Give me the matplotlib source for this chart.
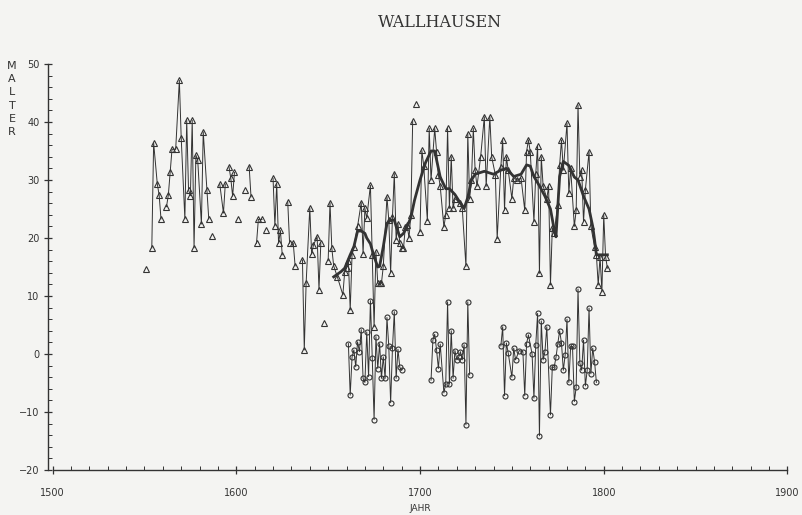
import numpy as np
import matplotlib.pyplot as plt
from matplotlib.ticker import MultipleLocator

nan = np.nan

# yearly values (triangles), nan = gap in the line
tri_years = [1551, 1552, 1554, 1555, 1557, 1558, 1559, 1560,
             1562, 1563, 1564, 1565, 1567, 1569, 1570, 1572, 1573, 1574, 1575, 1576,
             1577, 1578, 1579, 1581, 1582, 1584, 1585, 1586, 1587, 1588,
             1591, 1593, 1594, 1595, 1596, 1597, 1598, 1599, 1600, 1601, 1602,
             1605, 1606, 1607, 1608, 1609, 1611, 1612, 1614, 1615, 1616, 1617,
             1620, 1621, 1622, 1623, 1624, 1625, 1626, 1628, 1629, 1630, 1631, 1632, 1633,
             1636, 1637, 1638, 1640, 1641, 1642, 1644, 1645, 1646, 1647, 1648, 1649,
             1650, 1651, 1652, 1653, 1655, 1658, 1659, 1660, 1661, 1662, 1663, 1664,
             1666, 1668, 1669, 1670, 1671, 1673, 1674, 1675, 1676, 1677, 1678, 1679,
             1680, 1682, 1683, 1684, 1685, 1686, 1687, 1688, 1689, 1690, 1691, 1692,
             1693, 1694, 1695, 1696, 1697, 1698, 1699,
             1700, 1701, 1702, 1704, 1705, 1706, 1708, 1709, 1710, 1711, 1713, 1714,
             1715, 1716, 1717, 1718, 1719, 1722, 1723, 1725, 1726, 1727, 1728, 1729,
             1730, 1731, 1733, 1735, 1736, 1738, 1739, 1741, 1742, 1744, 1745, 1746,
             1747, 1748, 1750, 1751, 1753, 1755, 1757, 1758, 1759, 1760, 1762, 1763,
             1764, 1765, 1766, 1767, 1769, 1770, 1771, 1772, 1773, 1775, 1776, 1777,
             1778, 1780, 1781, 1782, 1784, 1785, 1786, 1787, 1788, 1789, 1790, 1792,
             1793, 1795, 1796, 1797, 1798, 1799, 1800, 1801, 1802]
tri_vals = [14.7, nan, 18.3, 36.4, 29.3, 27.4, 23.3, nan,
            25.4, 27.4, 31.3, 35.3, 35.3, 47.2, 37.3, 23.3, 40.3, 28.3, 27.3, 40.3,
            18.3, 34.3, 33.4, 22.4, 38.3, 28.3, 23.3, nan, 20.3, nan,
            29.3, 24.3, 29.3, nan, 32.3, 30.3, 27.2, 31.3, nan, 23.3, nan,
            28.3, nan, 32.3, 27.1, nan, 19.1, 23.2, 23.2, nan, 21.3, nan,
            30.3, 22.1, 29.3, 19.1, 21.3, 17.1, nan, 26.2, 19.1, nan, 19.1, 15.2, nan,
            16.2, 0.7, 12.2, 25.2, 17.2, 18.8, 20.2, 11.1, 19.1, nan, 5.3, nan,
            16.1, 26.1, 18.2, 15.2, 13.3, 10.2, 14.2, 14.8, 16.1, 7.6, 17.1, 18.5,
            22.0, 26.1, 17.3, 25.1, 23.4, 29.1, 17.1, 4.7, 17.6, 12.2, 12.2, 12.2,
            15.1, 27.1, 23.1, 14.0, 23.7, 31.1, 19.7, 22.5, 19.1, 18.2, 18.2, 21.9,
            22.2, 20.0, 24.0, 40.1, nan, 43.1, nan,
            21.1, 35.1, 32.5, 23.0, 38.9, 30.0, 38.9, 34.9, 30.9, 28.9, 21.9, 24.0,
            38.9, 25.1, 34.0, 25.1, 26.8, 26.0, 25.1, 15.1, 38.0, 26.8, 30.0, 38.9,
            31.7, 28.9, 34.0, 40.9, 28.9, 40.9, 34.0, 30.9, 19.9, 32.3, 36.9, 24.8,
            34.0, 31.7, 26.8, 30.3, 30.0, 30.3, 24.8, 34.9, 36.9, 34.9, 22.8, 31.1,
            35.9, 13.9, 34.0, 29.0, 26.8, 28.9, 11.9, 21.7, 20.8, 25.7, 32.6, 36.9,
            31.7, 39.8, 27.7, 32.0, 22.0, 24.8, 42.9, 30.6, 31.7, 22.8, 28.3, 34.9,
            22.0, 18.5, 17.1, 11.9, 16.8, 10.7, 24.0, 16.8, 14.8]

# smoothed curve (thick line)
smooth_years = [1653, 1657, 1659, 1662, 1664, 1666, 1668, 1670, 1671, 1673, 1675, 1677,
                1678, 1680, 1682, 1684, 1686, 1687, 1689, 1691, 1693, 1695, 1697, 1700,
                1703, 1706, 1708, 1711, 1714, 1716, 1719, 1722, 1724, 1726, 1728, 1730,
                1735, 1740, 1744, 1747, 1751, 1755, 1758, 1760, 1762, 1765, 1768, 1771,
                1773, 1774, 1775, 1776, 1778, 1781, 1784, 1786, 1789, 1792, 1794, 1795,
                1796, 1799, 1802]
smooth_vals = [13.3, 14.2, 14.8, 17.1, 18.5, 21.2, 21.2, 20.8, 20.0, 19.0, 16.8, 15.0,
               15.1, 18.5, 22.5, 23.1, 23.1, 22.0, 20.2, 20.8, 22.0, 23.5, 26.5, 30.0,
               33.0, 35.0, 35.0, 30.5, 28.5, 28.5, 27.5, 26.0, 25.1, 27.0, 30.0, 31.0,
               31.5, 31.0, 31.7, 32.0, 30.6, 31.0, 32.6, 32.4, 30.6, 29.0, 27.2, 25.0,
               21.5, 20.2, 25.4, 30.6, 33.2, 32.5, 30.5, 30.0, 27.2, 25.0, 22.0, 19.7,
               17.1, 17.1, 17.1]

# deviations from the smoothed curve (circles)
dev_years = [1661, 1662, 1663, 1664, 1665, 1666, 1667, 1668, 1669, 1670, 1671, 1672,
             1673, 1674, 1675, 1676, 1677, 1678, 1679, 1680, 1681, 1682, 1683, 1684,
             1685, 1686, 1687, 1688, 1689, 1690, 1691,
             1706, 1707, 1708, 1709, 1710, 1711, 1713, 1714, 1715, 1716, 1717, 1718,
             1719, 1720, 1721, 1722, 1723, 1724, 1725, 1726, 1727, 1728,
             1744, 1745, 1746, 1747, 1748, 1750, 1751, 1752, 1754, 1756, 1757, 1758,
             1759, 1761, 1762, 1763, 1764, 1765, 1766, 1767, 1768, 1769, 1771, 1772,
             1773, 1774, 1775, 1776, 1777, 1778, 1779, 1780, 1781, 1782, 1783, 1784,
             1785, 1786, 1787, 1788, 1789, 1790, 1791, 1792, 1793, 1794, 1795, 1796]
dev_vals = [1.8, -7.1, -0.5, 0.7, -2.2, 2.1, 0.4, 4.2, -4.2, -4.9, 3.8, -3.9,
            9.2, -0.7, -11.3, 3.0, -2.5, 1.8, -4.2, -0.5, -4.2, 6.3, 1.3, -8.4,
            1.0, 7.3, -4.2, 0.8, -2.3, -2.8, nan,
            -4.5, 2.4, 3.4, 0.7, -2.5, 1.7, -6.7, -5.1, 9.0, -5.1, 4.0, -4.2,
            0.6, -1.0, -0.6, 0.4, -1.0, 1.6, -12.2, 9.0, -3.6, nan,
            1.4, 4.7, -7.2, 1.9, 0.2, -4.0, 1.0, -1.0, 0.6, 0.4, -7.2, 1.8,
            3.3, 0.0, -7.6, 1.6, 7.0, -14.1, 5.7, -1.0, 0.4, 4.7, -10.5, -2.3,
            -2.3, -0.6, 1.8, 4.0, 1.9, -2.8, -0.2, 6.0, -4.9, 1.3, 1.3, -8.2,
            -5.7, 11.2, -1.6, -2.8, 2.4, -5.5, -2.8, 7.9, -3.4, 1.0, -1.3, -4.9]

ink = '#333333'
paper = '#f4f4f2'

fig = plt.figure(figsize=(8.03, 5.15), dpi=100, facecolor=paper)
ax = fig.add_axes([48 / 803, 45 / 515, 740 / 803, 406 / 515])
ax.set_facecolor(paper)

ax.plot(tri_years, tri_vals, color=ink, lw=0.7, marker='^', ms=4,
        mfc='none', mec=ink, mew=0.8)
ax.plot(smooth_years, smooth_vals, color=ink, lw=2.0)
ax.plot(dev_years, dev_vals, color=ink, lw=0.7, marker='o', ms=3.6,
        mfc='none', mec=ink, mew=0.8)

ax.set_xlim(1497.5, 1900.3)
ax.set_ylim(-20, 50)
for s in ['top', 'right']:
    ax.spines[s].set_visible(False)
for s in ['left', 'bottom']:
    ax.spines[s].set_color(ink)
    ax.spines[s].set_linewidth(1.0)
ax.spines['bottom'].set_bounds(1500, 1900)

ax.xaxis.set_major_locator(MultipleLocator(100))
ax.xaxis.set_minor_locator(MultipleLocator(10))
ax.yaxis.set_major_locator(MultipleLocator(10))
ax.yaxis.set_minor_locator(MultipleLocator(2))
ax.tick_params(axis='both', which='major', direction='inout', length=6, width=0.9,
               colors=ink, labelsize=7)
ax.tick_params(axis='both', which='minor', direction='in', length=3, width=0.7, colors=ink)
ax.tick_params(axis='x', pad=10)
ax.tick_params(axis='y', pad=3)

fig.text(0.548, 0.957, 'WALLHAUSEN', ha='center', va='center',
         family='DejaVu Serif', fontsize=11.5, color=ink)
fig.text(0.523, 0.004, 'JAHR', ha='center', va='bottom', fontsize=6.5, color=ink)
for i, ch in enumerate('MALTER'):
    fig.text(12 / 803, 1 - (66 + i * 13.2) / 515, ch, ha='center', va='center',
             fontsize=8, color=ink)

fig.savefig('out.png', dpi=100, facecolor=paper)
